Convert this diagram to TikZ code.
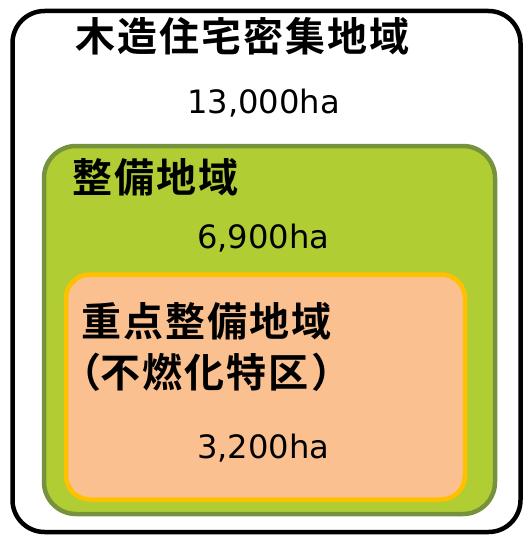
\documentclass[tikz,border=0pt]{standalone}
\usepackage{fontspec}
\newfontfamily\jp{Noto Sans CJK JP}[BoldFont={Noto Sans CJK JP Bold},LetterSpace=5]
\newfontfamily\jpp{Noto Sans CJK JP}[BoldFont={Noto Sans CJK JP Bold},RawFeature=+palt]
\newfontfamily\num{DejaVu Sans}
\definecolor{outerline}{HTML}{000000}
\definecolor{greenfill}{HTML}{B0CE34}
\definecolor{greenline}{HTML}{76923C}
\definecolor{orangefill}{HTML}{FAC090}
\definecolor{orangeline}{HTML}{FFC000}
\tikzset{
  title/.style={anchor=base west, inner sep=0pt, font=\jp\bfseries\fontsize{40}{44}\selectfont},
  paren/.style={anchor=base west, inner sep=0pt, font=\jpp\bfseries\fontsize{40}{44}\selectfont},
  area/.style={anchor=base west, inner sep=0pt, font=\num\fontsize{32.2}{36}\selectfont},
}
\begin{document}
\begin{tikzpicture}[x=1pt,y=-1pt]
\useasboundingbox (0,0) rectangle (523,535);
\fill[white] (0,0) rectangle (523,535);
% outer
\draw[line width=4.5pt, draw=outerline, fill=white, rounded corners=32pt] (12.5,11) rectangle (520.5,532);
% green
\draw[line width=4.5pt, draw=greenline, fill=greenfill, rounded corners=32pt] (44,146) rectangle (495,514);
% orange
\draw[line width=4.5pt, draw=orangeline, fill=orangefill, rounded corners=24pt] (66,274.5) rectangle (465,499.5);
% texts
\node[title] (t1) at (75,52) {木造住宅密集地域};
\node[area] (a1) at (187,113) {13,000ha};
\node[title] (t2) at (72,192) {整備地域};
\node[area] (a2) at (197,248) {6,900ha};
\node[title] (t3) at (81,336) {重点整備地域};
\node[paren] (p1) at (80,387) {（\hspace{3pt}};
\node[title, anchor=base west] (t4) at (p1.base east) {不燃化特区};
\node[paren, anchor=base west] (p2) at (t4.base east) {\hspace{4pt}）};
\node[area] (a3) at (197,458) {3,200ha};
\end{tikzpicture}
\end{document}
